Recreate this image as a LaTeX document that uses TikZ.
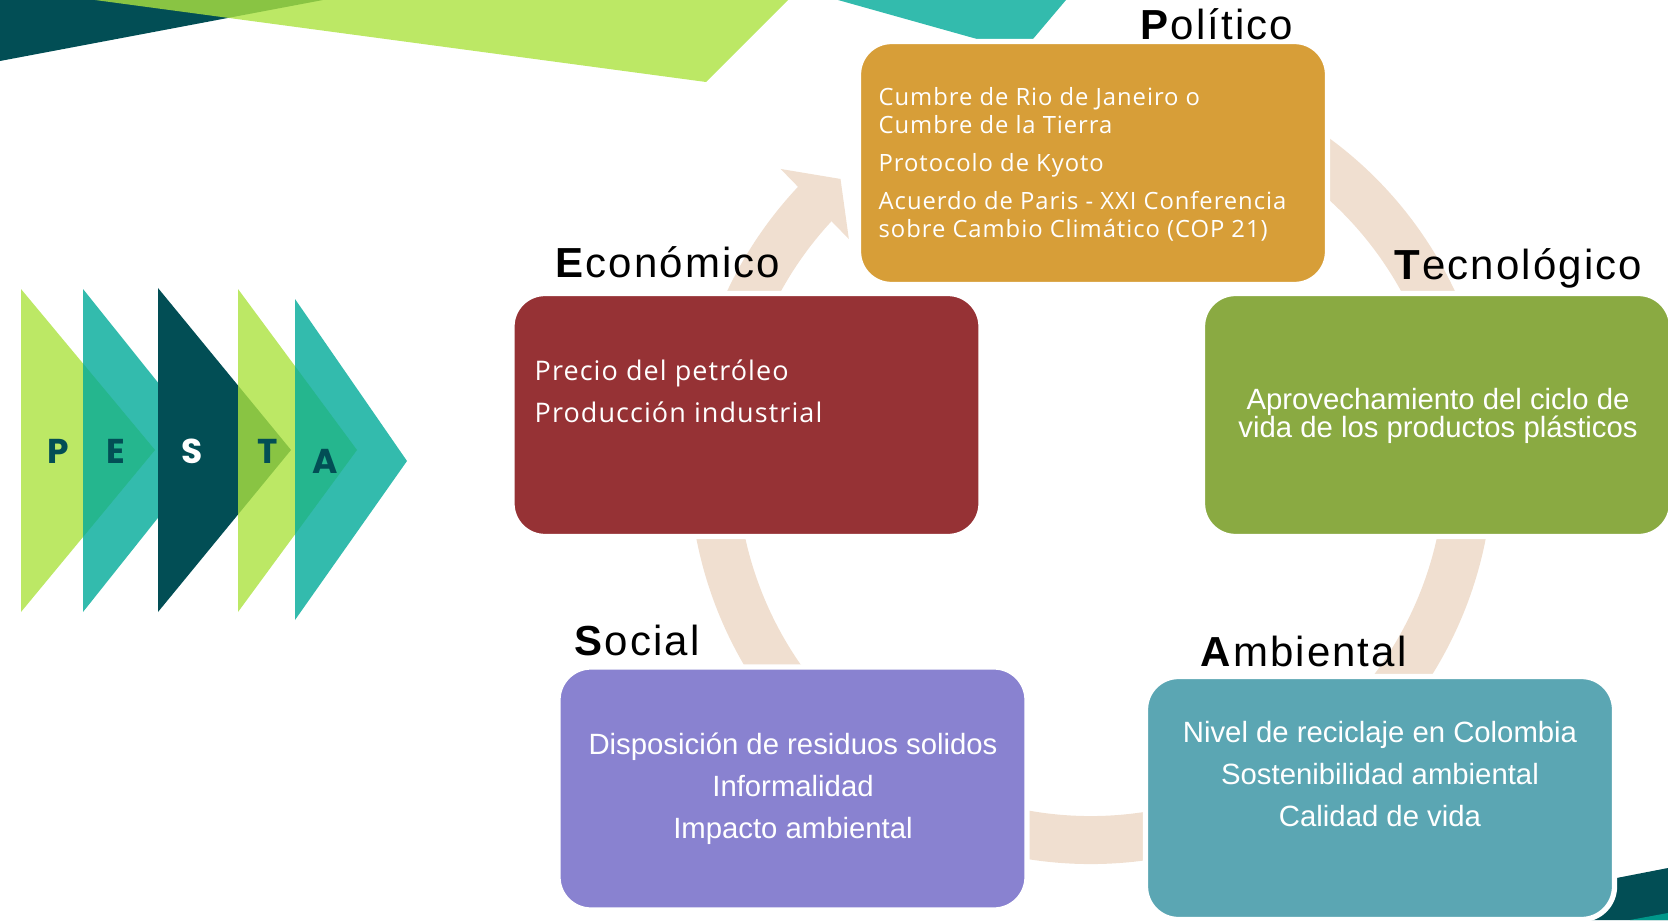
\documentclass[tikz,border=0pt]{standalone}
\usepackage{fontspec}
\setmainfont{Liberation Sans}
\newfontfamily\headfont{Liberation Sans}[LetterSpace=5]
\newfontfamily\itemfont{Open Sans}[LetterSpace=4]
\newfontfamily\pestafont{Poppins}
\usetikzlibrary{arrows.meta, bending, positioning}

\definecolor{darkteal}{RGB}{2,78,85}
\definecolor{limegreen}{RGB}{171,226,63}
\definecolor{seateal}{RGB}{0,170,152}
\definecolor{politico}{RGB}{215,158,56}
\definecolor{economico}{RGB}{150,50,53}
\definecolor{tecnologico}{RGB}{138,170,66}
\definecolor{social}{RGB}{137,130,208}
\definecolor{ambiental}{RGB}{91,166,179}
\definecolor{ringbeige}{RGB}{240,223,208}

\tikzset{
  factor/.style={draw=white, line width=1.5pt, rounded corners=0.33cm,
    minimum width=4.69cm, minimum height=2.43cm, inner sep=0pt},
  factorhead/.style={anchor=base west, inner sep=0pt,
    font=\headfont\fontsize{11.95}{14}\selectfont},
  listtext/.style={anchor=west, inner sep=0pt, align=left, text=white},
  bodytext/.style={inner sep=0pt, align=center, text=white},
  pestaletter/.style={anchor=base, inner sep=0pt, text=darkteal,
    font=\pestafont\bfseries\fontsize{9.8}{12}\selectfont},
}

\begin{document}
\begin{tikzpicture}
    \useasboundingbox (0,0) rectangle (16.68,9.20);

    % Corner decorations
    \fill[darkteal] (0,9.20) -- (3.23,9.20) -- (0,8.59) -- cycle;
    \fill[limegreen, opacity=0.8] (0.95,9.20) -- (7.88,9.20) -- (7.06,8.38) -- cycle;
    \fill[seateal, opacity=0.8] (8.38,9.20) -- (9.77,8.81) -- (10.33,8.81) -- (10.66,9.20) -- cycle;
    \fill[darkteal] (15.60,0.31) -- (16.68,0.52) -- (16.68,0) -- (15.60,0) -- cycle;
    \fill[seateal, opacity=0.8] (16.30,0) -- (16.68,0.07) -- (16.68,0) -- cycle;

    % PESTA chevrons
    \fill[limegreen, opacity=0.8] (0.21,6.31) -- (1.55,4.70) -- (0.21,3.08) -- cycle;
    \fill[seateal, opacity=0.8] (0.83,6.31) -- (2.12,4.70) -- (0.83,3.08) -- cycle;
    \fill[darkteal] (1.58,6.32) -- (2.91,4.70) -- (1.58,3.08) -- cycle;
    \fill[limegreen, opacity=0.8] (2.38,6.31) -- (3.57,4.70) -- (2.38,3.08) -- cycle;
    \fill[seateal, opacity=0.8] (2.95,6.21) -- (4.07,4.59) -- (2.95,3.00) -- cycle;

    \node[pestaletter] (letP) at (0.585,4.57) {P};
    \node[pestaletter] (letE) at (1.16,4.57) {E};
    \node[pestaletter, text=white] (letS) at (1.925,4.57) {S};
    \node[pestaletter] (letT) at (2.68,4.57) {T};
    \node[pestaletter] (letA) at (3.255,4.47) {A};

    % Cycle ring behind the boxes
    \coordinate (hub) at (10.91,4.58);
    \draw[ringbeige, line width=0.48cm, -{Triangle[width=0.96cm, length=0.36cm]}]
        ([shift={(60:3.78)}]hub) arc[start angle=60, end angle=-228.5, radius=3.78];

    % Factor boxes
    \node[factor, fill=politico] (pol) at (10.93,7.57) {};
    \node[factor, fill=economico] (eco) at (7.465,5.05) {};
    \node[factor, fill=tecnologico] (tec) at (14.37,5.05) {};
    \node[factor, fill=social] (soc) at (7.925,1.315) {};
    \node[factor, fill=ambiental] (amb) at (13.80,1.22) {};

    % Headings
    \node[factorhead] (polhead) at (11.40,8.80) {\textbf{P}olítico};
    \node[factorhead] (ecohead) at (5.55,6.43) {\textbf{E}conómico};
    \node[factorhead] (techead) at (13.94,6.41) {\textbf{T}ecnológico};
    \node[factorhead] (sochead) at (5.74,2.65) {\textbf{S}ocial};
    \node[factorhead] (ambhead) at (12.00,2.54) {\textbf{A}mbiental};

    % Box contents
    \node[listtext, font=\itemfont\fontsize{6.77}{7.97}\selectfont] (poltxt) at (8.78,7.56)
        {Cumbre de Rio de Janeiro o\\Cumbre de la Tierra\\[0.1cm]Protocolo de Kyoto\\[0.1cm]%
         Acuerdo de Paris - XXI Conferencia\\sobre Cambio Climático (COP 21)};
    \node[listtext, font=\itemfont\fontsize{7.68}{11.95}\selectfont] (ecotxt) at (5.34,5.285)
        {Precio del petróleo\\Producción industrial};
    \node[bodytext, font=\fontsize{8.34}{8.2}\selectfont] (tectxt) at (14.38,5.04)
        {Aprovechamiento del ciclo de\\vida de los productos plásticos};
    \node[bodytext, font=\fontsize{8.34}{11.95}\selectfont] (soctxt) at (7.93,1.31)
        {Disposición de residuos solidos\\Informalidad\\Impacto ambiental};
    \node[bodytext, font=\fontsize{8.34}{11.95}\selectfont] (ambtxt) at (13.80,1.455)
        {Nivel de reciclaje en Colombia\\Sostenibilidad ambiental\\Calidad de vida};

\end{tikzpicture}
\end{document}
